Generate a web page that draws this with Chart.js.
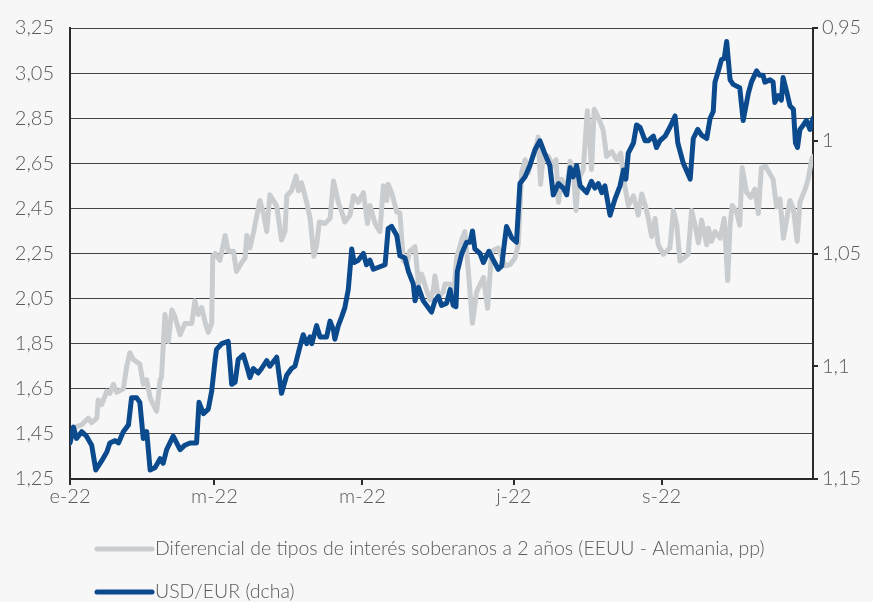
<!DOCTYPE html>
<html lang="es">
<head>
<meta charset="utf-8">
<title>Diferencial de tipos y USD/EUR</title>
<script src="https://cdn.jsdelivr.net/npm/chart.js@4.4.1/dist/chart.umd.min.js"></script>
<style>
    html, body { margin: 0; padding: 0; background: #f7f7f7; }
    canvas { display: block; }
</style>
</head>
<body>
<canvas id="spreadChart" width="873" height="602"></canvas>
<script>
// Posición en días hábiles desde el 3 de enero de 2022
const diffDays = [0, 1.5, 3.4, 5.3, 6.3, 7.8, 8.2, 9.2, 10.7, 11.6, 12.6, 13.6, 15.5, 16.5, 17.4, 18.4, 20.3, 21.3, 22.3, 23.3,
    24.2, 25.2, 26.2, 26.6, 27.6, 28.6, 29.6, 30.5, 32.0, 33.4, 35.4, 36.3, 37.3, 38.3, 39.2, 40.2, 41.2, 41.5, 42.2, 43.6,
    45.1, 46.0, 47.5, 48.4, 49.9, 50.9, 51.4, 52.3, 53.3, 55.2, 56.2, 57.2, 58.1, 60.1, 61.5, 62.5, 63.0, 64.4, 65.7, 66.4,
    67.3, 68.8, 69.8, 70.9, 71.7, 72.5, 74.1, 75.6, 76.6, 78.0, 79.0, 79.9, 81.4, 82.4, 83.8, 85.3, 86.5, 87.2, 88.7, 90.1,
    91.1, 92.1, 92.5, 93.5, 95.0, 95.9, 96.9, 97.9, 98.8, 100.3, 101.3, 102.2, 103.7, 104.7, 105.6, 106.1, 107.1, 108.5, 109.0, 110.5,
    111.4, 112.4, 113.9, 114.8, 115.8, 117.0, 118.2, 120.2, 121.4, 122.6, 124.5, 126.5, 127.9, 129.4, 130.3, 131.3, 132.3, 133.2, 134.2, 135.7,
    136.1, 136.8, 137.6, 139.1, 140.5, 141.3, 142.0, 142.9, 144.4, 145.4, 146.3, 147.1, 147.8, 149.2, 150.4, 151.0, 151.6, 152.4, 153.6, 155.0,
    156.0, 157.5, 158.9, 160.1, 161.3, 162.3, 163.8, 165.2, 166.2, 167.3, 168.2, 169.1, 170.1, 171.0, 172.5, 174.4, 175.4, 176.4, 177.3, 179.7,
    180.7, 181.7, 182.7, 183.6, 185.1, 185.6, 186.5, 187.5, 189.0, 190.2, 191.2, 191.9, 192.5, 193.8, 194.7, 195.4, 196.7, 197.9, 199.1, 200.1,
    201.0, 202.2, 204.4, 205.4, 206.4, 207.4, 209.3, 210.3, 211.4, 212.2, 213.7, 214.6, 215.6, 216];

// Diferencial 2 años EEUU - Alemania (pp)
const diffValues = [1.41, 1.48, 1.49, 1.52, 1.50, 1.52, 1.60, 1.58, 1.64, 1.63, 1.67, 1.635, 1.65, 1.75, 1.81, 1.78, 1.76, 1.67, 1.69, 1.61,
    1.58, 1.55, 1.69, 1.70, 1.98, 1.86, 2.00, 1.97, 1.89, 1.94, 1.94, 2.04, 1.98, 2.01, 1.95, 1.90, 1.94, 2.24, 2.25, 2.22,
    2.33, 2.26, 2.26, 2.17, 2.21, 2.23, 2.33, 2.275, 2.34, 2.485, 2.43, 2.347, 2.51, 2.46, 2.31, 2.347, 2.506, 2.528, 2.593, 2.528,
    2.564, 2.477, 2.405, 2.238, 2.289, 2.39, 2.383, 2.405, 2.572, 2.477, 2.434, 2.39, 2.42, 2.506, 2.477, 2.52, 2.383, 2.463, 2.383, 2.347,
    2.55, 2.485, 2.557, 2.52, 2.434, 2.43, 2.217, 2.202, 2.26, 2.28, 2.115, 2.159, 2.086, 2.043, 2.086, 2.151, 2.057, 2.079, 2.115, 2.115,
    2.043, 2.231, 2.311, 2.347, 2.173, 1.941, 2.079, 2.144, 2.007, 2.26, 2.275, 2.195, 2.20, 2.231, 2.289, 2.608, 2.666, 2.608, 2.666, 2.738,
    2.767, 2.557, 2.695, 2.68, 2.637, 2.666, 2.477, 2.579, 2.535, 2.659, 2.623, 2.441, 2.579, 2.623, 2.883, 2.782, 2.623, 2.89, 2.854, 2.797,
    2.68, 2.702, 2.666, 2.695, 2.55, 2.463, 2.506, 2.42, 2.514, 2.46, 2.40, 2.325, 2.405, 2.289, 2.246, 2.275, 2.441, 2.376, 2.217, 2.246,
    2.441, 2.376, 2.297, 2.398, 2.289, 2.362, 2.304, 2.347, 2.318, 2.405, 2.13, 2.376, 2.463, 2.434, 2.376, 2.63, 2.521, 2.499, 2.535, 2.427,
    2.63, 2.637, 2.579, 2.456, 2.492, 2.318, 2.485, 2.449, 2.304, 2.477, 2.535, 2.579, 2.666, 2.68];

const usdDays = [0, 1.0, 1.9, 3.4, 4.8, 6.3, 7.5, 9.2, 10.7, 11.6, 13.1, 14.1, 15.5, 17.0, 17.9, 19.4, 20.3, 21.3, 22.3, 23.3,
    24.7, 26.2, 27.1, 28.1, 30.0, 32.0, 33.4, 34.9, 36.8, 37.5, 38.8, 40.2, 41.2, 42.2, 42.6, 44.1, 46.0, 47.0, 48.0, 48.9,
    50.4, 51.4, 52.3, 53.3, 54.7, 55.7, 57.2, 58.1, 60.1, 61.5, 63.0, 64.4, 65.4, 66.9, 67.8, 68.8, 69.8, 70.3, 71.7, 72.7,
    74.6, 75.6, 76.6, 77.0, 78.0, 79.0, 79.9, 80.9, 81.9, 82.6, 83.8, 85.3, 86.2, 87.2, 88.2, 91.6, 92.5, 93.5, 95.0, 95.9,
    97.4, 98.4, 99.8, 100.3, 101.3, 102.7, 105.1, 106.1, 107.1, 108.0, 109.5, 110.5, 111.4, 112.2, 112.6, 113.9, 115.3, 116.3, 117.0, 117.7,
    119.2, 120.2, 121.1, 121.8, 123.1, 124.5, 125.5, 126.0, 126.9, 128.4, 129.8, 130.8, 132.3, 133.7, 135.2, 136.6, 138.1, 139.5, 140.5, 142.0,
    143.4, 144.4, 145.4, 146.3, 147.3, 148.3, 150.2, 151.6, 152.6, 153.6, 154.6, 155.5, 157.0, 158.4, 159.9, 160.9, 161.6, 162.3, 163.8, 164.7,
    165.7, 167.2, 168.1, 169.6, 170.5, 171.5, 173.0, 174.4, 175.9, 176.7, 178.3, 180.3, 181.2, 182.5, 183.6, 185.1, 186.1, 187.0, 187.5, 188.5,
    189.4, 190.2, 190.9, 191.9, 192.8, 194.7, 195.7, 197.2, 198.1, 199.6, 200.5, 201.5, 202.0, 203.5, 204.4, 204.9, 205.9, 206.8, 207.3, 208.3,
    209.3, 210.3, 210.9, 211.5, 212.2, 213.2, 214.1, 215.1, 216.0];

// Tipo de cambio USD/EUR (eje derecho, invertido)
const usdValues = [1.134, 1.127, 1.132, 1.129, 1.131, 1.135, 1.146, 1.142, 1.138, 1.134, 1.133, 1.134, 1.129, 1.126, 1.114, 1.114, 1.116, 1.132, 1.129, 1.146,
    1.145, 1.141, 1.143, 1.137, 1.131, 1.137, 1.135, 1.134, 1.134, 1.116, 1.121, 1.119, 1.111, 1.097, 1.0925, 1.090, 1.089, 1.108, 1.107, 1.097,
    1.095, 1.100, 1.105, 1.101, 1.103, 1.101, 1.0975, 1.100, 1.096, 1.112, 1.104, 1.101, 1.100, 1.091, 1.086, 1.090, 1.087, 1.090, 1.082, 1.087,
    1.087, 1.080, 1.084, 1.088, 1.082, 1.078, 1.074, 1.066, 1.048, 1.054, 1.053, 1.050, 1.055, 1.053, 1.057, 1.055, 1.039, 1.038, 1.042, 1.051,
    1.052, 1.058, 1.0635, 1.071, 1.065, 1.071, 1.076, 1.071, 1.069, 1.073, 1.072, 1.066, 1.073, 1.0736, 1.058, 1.050, 1.045, 1.045, 1.040, 1.048,
    1.050, 1.054, 1.051, 1.049, 1.053, 1.057, 1.0555, 1.049, 1.038, 1.043, 1.045, 1.019, 1.016, 1.011, 1.004, 1.000, 1.006, 1.011, 1.024, 1.019,
    1.021, 1.024, 1.012, 1.016, 1.011, 1.020, 1.023, 1.018, 1.021, 1.019, 1.023, 1.020, 1.033, 1.026, 1.020, 1.013, 1.017, 1.0055, 1.001, 0.993,
    0.994, 1.000, 1.000, 0.998, 1.003, 1.000, 0.998, 0.994, 0.989, 1.001, 1.010, 1.017, 0.999, 0.995, 0.9975, 0.999, 0.990, 0.987, 0.974, 0.969,
    0.964, 0.9635, 0.956, 0.973, 0.975, 0.9765, 0.991, 0.979, 0.974, 0.969, 0.971, 0.971, 0.974, 0.973, 0.974, 0.983, 0.980, 0.982, 0.972, 0.978,
    0.9845, 0.986, 1.001, 1.003, 0.995, 0.993, 0.991, 0.995, 0.990];

// Marcas del eje X (inicio de mes, cada dos meses)
const xTickDays = [0, 42, 85, 129, 172];
const xTickLabels = ['e-22', 'm-22', 'm-22', 'j-22', 's-22'];

const leftTicks = [1.25, 1.45, 1.65, 1.85, 2.05, 2.25, 2.45, 2.65, 2.85, 3.05, 3.25];
const rightTicks = [0.95, 1, 1.05, 1.1, 1.15];

const LABEL_COLOR = '#595959';
const FONT_FAMILY = 'Lato, "DejaVu Sans", sans-serif';
const TICK_FONT = { family: FONT_FAMILY, size: 20, weight: '300' };

function toPoints(days, values) {
    return days.map((d, i) => ({ x: d, y: values[i] }));
}

function commaDecimal(v) {
    return String(v).replace('.', ',');
}

// Leyenda en filas alineadas a la izquierda, bajo el gráfico
const legendRows = {
    id: 'legendRows',
    afterDraw(chart, args, opts) {
        const ctx = chart.ctx;
        chart.data.datasets.forEach((ds, i) => {
            const y = opts.top + i * opts.rowGap;
            ctx.save();
            ctx.strokeStyle = ds.borderColor;
            ctx.lineWidth = ds.borderWidth;
            ctx.lineCap = 'round';
            ctx.beginPath();
            ctx.moveTo(opts.left, y);
            ctx.lineTo(opts.left + opts.lineLength, y);
            ctx.stroke();
            ctx.fillStyle = LABEL_COLOR;
            ctx.font = opts.font;
            ctx.textBaseline = 'middle';
            ctx.fillText(ds.label, opts.left + opts.lineLength + 3, y);
            ctx.restore();
        });
    }
};

const ctx = document.getElementById('spreadChart').getContext('2d');

new Chart(ctx, {
    type: 'line',
    data: {
        datasets: [
            {
                label: 'Diferencial de tipos de interés soberanos a 2 años (EEUU - Alemania, pp)',
                data: toPoints(diffDays, diffValues),
                borderColor: '#c9cdd0',
                borderWidth: 5,
                yAxisID: 'y',
                order: 2
            },
            {
                label: 'USD/EUR (dcha)',
                data: toPoints(usdDays, usdValues),
                borderColor: '#0c4a8e',
                borderWidth: 5,
                yAxisID: 'y1',
                order: 1
            }
        ]
    },
    options: {
        responsive: false,
        animation: false,
        parsing: false,
        elements: {
            point: { radius: 0 },
            line: { tension: 0, borderJoinStyle: 'round', borderCapStyle: 'round' }
        },
        layout: { padding: { top: 19, bottom: 0, left: 0, right: 0 } },
        scales: {
            x: {
                type: 'linear',
                min: 0,
                max: 216,
                afterBuildTicks: scale => { scale.ticks = xTickDays.map(v => ({ value: v })); },
                afterFit: scale => { scale.height = 123; },
                grid: { drawOnChartArea: false, drawTicks: true, tickLength: 6, color: '#2a2a2a', lineWidth: 2 },
                border: { display: true, color: '#2a2a2a', width: 2 },
                ticks: {
                    autoSkip: false,
                    maxRotation: 0,
                    padding: 0,
                    color: LABEL_COLOR,
                    font: TICK_FONT,
                    callback: (value, index) => xTickLabels[index]
                }
            },
            y: {
                position: 'left',
                min: 1.25,
                max: 3.25,
                afterBuildTicks: scale => { scale.ticks = leftTicks.map(v => ({ value: v })); },
                afterFit: scale => { scale.width = 70; },
                grid: { color: '#444444', lineWidth: 1, drawTicks: false },
                border: { display: true, color: '#2a2a2a', width: 2 },
                ticks: {
                    padding: 16,
                    color: LABEL_COLOR,
                    font: TICK_FONT,
                    callback: v => commaDecimal(v)
                }
            },
            y1: {
                position: 'right',
                reverse: true,
                min: 0.95,
                max: 1.15,
                afterBuildTicks: scale => { scale.ticks = rightTicks.map(v => ({ value: v })); },
                afterFit: scale => { scale.width = 60; },
                grid: { drawOnChartArea: false, drawTicks: true, tickLength: 5, color: '#2a2a2a', lineWidth: 2 },
                border: { display: true, color: '#2a2a2a', width: 2 },
                ticks: {
                    padding: 4,
                    color: LABEL_COLOR,
                    font: TICK_FONT,
                    callback: v => commaDecimal(v)
                }
            }
        },
        plugins: {
            legend: { display: false },
            tooltip: { enabled: false },
            legendRows: {
                left: 97,
                top: 549,
                rowGap: 43,
                lineLength: 55,
                font: '300 19.5px ' + FONT_FAMILY
            }
        }
    },
    plugins: [legendRows]
});
</script>
</body>
</html>
